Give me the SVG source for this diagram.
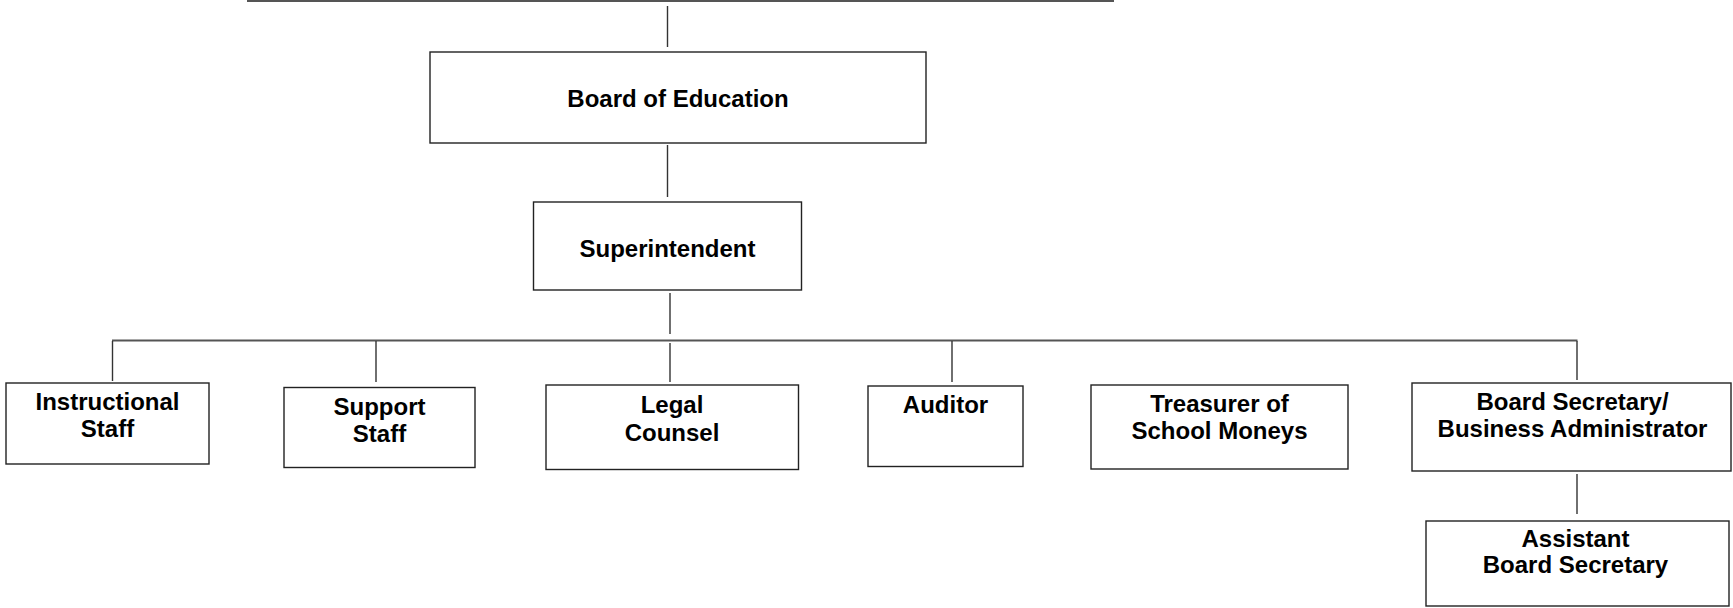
<svg xmlns="http://www.w3.org/2000/svg" width="1733" height="608" viewBox="0 0 1733 608">
<style>
.box{fill:#fff;stroke:#222;stroke-width:1.4}
.ln{stroke:#333;stroke-width:1.4;fill:none}
.hl{stroke:#555;stroke-width:2;fill:none}
text{font-family:"Liberation Sans",Arial,sans-serif;font-weight:bold;font-size:24px;fill:#000;text-anchor:middle}
</style>
<rect width="1733" height="608" fill="#fff"/>
<g id="connectors">
<line class="hl" x1="247" y1="1" x2="1114" y2="1"/>
<line class="ln" x1="667.5" y1="6" x2="667.5" y2="47"/>
<line class="ln" x1="667.5" y1="145" x2="667.5" y2="197"/>
<line class="ln" x1="670" y1="293" x2="670" y2="334"/>
<line class="hl" x1="112" y1="340.5" x2="1577.5" y2="340.5"/>
<line class="ln" x1="112.5" y1="341" x2="112.5" y2="381"/>
<line class="ln" x1="376" y1="341" x2="376" y2="382"/>
<line class="ln" x1="670" y1="343" x2="670" y2="382"/>
<line class="ln" x1="952" y1="341" x2="952" y2="382"/>
<line class="ln" x1="1577" y1="341" x2="1577" y2="380"/>
<line class="ln" x1="1577" y1="474" x2="1577" y2="514"/>
</g>
<g id="board">
<rect class="box" x="430" y="52" width="496" height="91"/>
<text x="678" y="106.5">Board of Education</text>
</g>
<g id="superintendent">
<rect class="box" x="533.5" y="202" width="268" height="88"/>
<text x="667.5" y="257">Superintendent</text>
</g>
<g id="instructional">
<rect class="box" x="6" y="383" width="203" height="81"/>
<text x="107.5" y="409.5">Instructional</text>
<text x="107.5" y="436.5">Staff</text>
</g>
<g id="support">
<rect class="box" x="284" y="387.5" width="191" height="80"/>
<text x="379.5" y="415">Support</text>
<text x="379.5" y="442">Staff</text>
</g>
<g id="legal">
<rect class="box" x="546" y="385" width="252.5" height="84.5"/>
<text x="672" y="413">Legal</text>
<text x="672" y="440.5">Counsel</text>
</g>
<g id="auditor">
<rect class="box" x="868" y="386" width="155" height="80.5"/>
<text x="945.5" y="412.5">Auditor</text>
</g>
<g id="treasurer">
<rect class="box" x="1091" y="385" width="257" height="84"/>
<text x="1219.5" y="411.5">Treasurer of</text>
<text x="1219.5" y="439">School Moneys</text>
</g>
<g id="boardsecretary">
<rect class="box" x="1412" y="383" width="319" height="88"/>
<text x="1572.5" y="409.5">Board Secretary/</text>
<text x="1572.5" y="436.5">Business Administrator</text>
</g>
<g id="assistant">
<rect class="box" x="1426" y="521" width="303" height="85"/>
<text x="1575.5" y="546.5">Assistant</text>
<text x="1575.5" y="573">Board Secretary</text>
</g>
</svg>
